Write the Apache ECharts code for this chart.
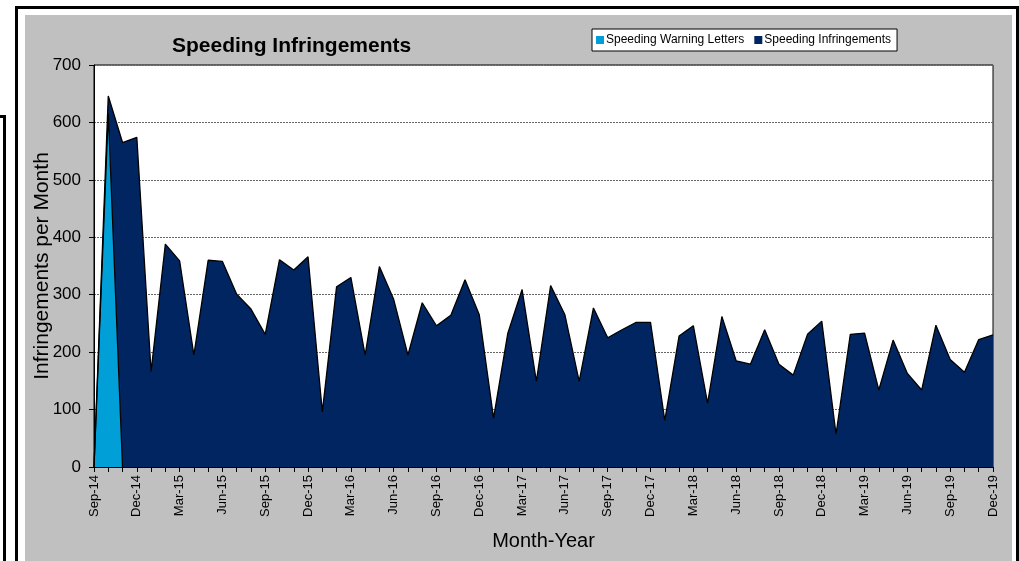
<!DOCTYPE html>
<html lang="en">
<head>
    <meta charset="utf-8">
    <style>
        html, body {
          width: 100%;
          height: 100%;
          margin: 0;
          padding: 0;
          background: #fff;
          overflow: hidden;
        }
        .frame { position: absolute; background: #000; }
        #panel {
          position: absolute;
          left: 25px; top: 15px;
          width: 987px; height: 546px;
          background: #c0c0c0;
        }
        #container {
          position: absolute;
          left: 0; top: 0;
          width: 1019px;
          height: 561px;
        }
    </style>
</head>
<body>
<!-- window frames around the chart panel -->
<div class="frame" style="left:15px;top:6px;width:1004px;height:3px"></div>
<div class="frame" style="left:15px;top:6px;width:3px;height:555px"></div>
<div class="frame" style="left:1016px;top:6px;width:3px;height:555px"></div>
<div class="frame" style="left:0;top:115px;width:6px;height:3px"></div>
<div class="frame" style="left:3px;top:115px;width:3px;height:446px"></div>
<div id="panel"></div>
<div id="container"></div>
<script type="text/javascript" src="https://cdn.jsdelivr.net/npm/echarts@6/dist/echarts.min.js"></script>
<script type="text/javascript">
  var months = [
    'Sep-14','Oct-14','Nov-14','Dec-14','Jan-15','Feb-15','Mar-15','Apr-15','May-15','Jun-15','Jul-15','Aug-15',
    'Sep-15','Oct-15','Nov-15','Dec-15','Jan-16','Feb-16','Mar-16','Apr-16','May-16','Jun-16','Jul-16','Aug-16',
    'Sep-16','Oct-16','Nov-16','Dec-16','Jan-17','Feb-17','Mar-17','Apr-17','May-17','Jun-17','Jul-17','Aug-17',
    'Sep-17','Oct-17','Nov-17','Dec-17','Jan-18','Feb-18','Mar-18','Apr-18','May-18','Jun-18','Jul-18','Aug-18',
    'Sep-18','Oct-18','Nov-18','Dec-18','Jan-19','Feb-19','Mar-19','Apr-19','May-19','Jun-19','Jul-19','Aug-19',
    'Sep-19','Oct-19','Nov-19','Dec-19'
  ];
  var infringements = [
    0, 646, 565, 574, 166, 388, 359, 195, 360, 358, 301, 275,
    231, 361, 343, 366, 96, 314, 330, 195, 349, 292, 195, 286,
    246, 264, 326, 265, 85, 233, 309, 149, 316, 265, 149, 277,
    225, 239, 252, 252, 81, 228, 246, 111, 262, 185, 179, 239,
    179, 160, 231, 254, 57, 231, 233, 134, 221, 163, 134, 247,
    187, 165, 222, 230
  ];
  var warningLetters = [0, 615, 0];
  var yTicks = [0, 100, 200, 300, 400, 500, 600, 700];

  var dom = document.getElementById('container');
  var myChart = echarts.init(dom, null, { renderer: 'canvas', width: 1019, height: 561 });

  var font = 'Arial, "Liberation Sans", sans-serif';
  var option = {
    backgroundColor: 'transparent',
    animation: false,
    textStyle: { fontFamily: font, color: '#000' },
    title: {
      text: 'Speeding Infringements',
      left: 167,
      top: 31,
      textStyle: { fontSize: 21, fontWeight: 'bold', color: '#000', fontFamily: font }
    },
    legend: {
      left: 592,
      top: 29,
      data: ['Speeding Warning Letters', 'Speeding Infringements'],
      backgroundColor: '#fff',
      borderColor: '#000',
      borderWidth: 1,
      borderRadius: 0,
      padding: [5, 6, 5, 4],
      itemGap: 10,
      itemWidth: 8,
      itemHeight: 8,
      icon: 'rect',
      textStyle: { fontSize: 12, color: '#000', padding: [0, 0, 0, -3] }
    },
    grid: {
      left: 94,
      top: 65,
      width: 899,
      height: 402,
      show: true,
      backgroundColor: '#fff',
      borderColor: '#000',
      borderWidth: 1
    },
    xAxis: {
      type: 'category',
      data: months,
      boundaryGap: false,
      name: 'Month-Year',
      nameLocation: 'middle',
      nameGap: 64,
      nameMoveOverlap: false,
      nameTextStyle: { fontSize: 20, color: '#000' },
      axisLine: { lineStyle: { color: '#000', width: 1 } },
      axisTick: { interval: 0, length: 5, lineStyle: { color: '#000' } },
      axisLabel: { interval: 2, rotate: 90, fontSize: 13, color: '#000', margin: 8 },
      splitLine: { show: false }
    },
    yAxis: {
      type: 'value',
      min: yTicks[0],
      max: yTicks[yTicks.length - 1],
      interval: 100,
      name: 'Infringements per Month',
      nameLocation: 'middle',
      nameGap: 41,
      nameMoveOverlap: false,
      nameTextStyle: { fontSize: 21, color: '#000' },
      axisLine: { show: true, lineStyle: { color: '#000', width: 1 } },
      axisTick: { show: true, length: 5, lineStyle: { color: '#000' } },
      axisLabel: { fontSize: 17, color: '#000', margin: 13 },
      splitLine: { lineStyle: { type: [2, 1], color: '#666', width: 1 } }
    },
    series: [
      {
        name: 'Speeding Infringements',
        type: 'line',
        data: infringements,
        symbol: 'none',
        lineStyle: { color: '#000', width: 1.3 },
        itemStyle: { color: '#002561', borderColor: '#000' },
        areaStyle: { color: '#002561', opacity: 1 }
      },
      {
        name: 'Speeding Warning Letters',
        type: 'line',
        data: warningLetters,
        symbol: 'none',
        lineStyle: { color: '#000', width: 1.3 },
        itemStyle: { color: '#009fd7', borderColor: '#000' },
        areaStyle: { color: '#009fd7', opacity: 1 }
      }
    ]
  };
  myChart.setOption(option);
  window.addEventListener('resize', myChart.resize);
</script>
</body>
</html>
